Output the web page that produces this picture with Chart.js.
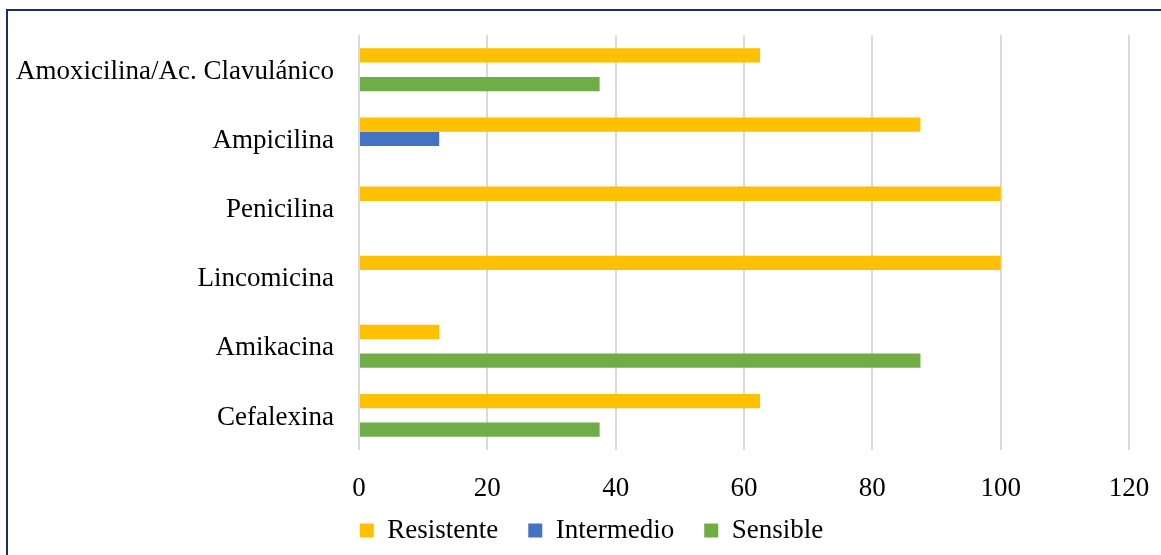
<!DOCTYPE html>
<html>
<head>
<meta charset="utf-8">
<script src="https://cdn.jsdelivr.net/npm/chart.js@4.4.0/dist/chart.umd.min.js"></script>
<style>
  html, body { margin: 0; padding: 0; background: #fff; }
  .frame {
    position: absolute; left: 6px; top: 9px; width: 1155px; height: 546px;
    border-top: 2px solid #13306e; border-left: 2px solid #13306e;
    box-sizing: border-box;
  }
  .frame canvas { display: block; }
</style>
</head>
<body>
<div class="frame"><canvas id="chart" width="1153" height="544"></canvas></div>
<script>
const antibiotics = ["Amoxicilina/Ac. Clavulánico", "Ampicilina", "Penicilina", "Lincomicina", "Amikacina", "Cefalexina"];
const resistente = [62.5, 87.5, 100, 100, 12.5, 62.5];
const intermedio = [0, 12.5, 0, 0, 0, 0];
const sensible = [37.5, 0, 0, 0, 87.5, 37.5];
const xTicks = [0, 20, 40, 60, 80, 100, 120];

const serif = "'Liberation Serif', 'DejaVu Serif', serif";
const textColor = '#000';

// fixed axis boxes; labels may spill outside them, so don't clip
function fixSize(prop, size) {
  return (scale) => {
    scale[prop] = size;
    scale._computeLabelArea = () => undefined;
  };
}

const ctx = document.getElementById('chart').getContext('2d');
new Chart(ctx, {
  type: 'bar',
  data: {
    labels: antibiotics,
    datasets: [
      { label: 'Resistente', data: resistente, backgroundColor: '#FFC000' },
      { label: 'Intermedio', data: intermedio, backgroundColor: '#4472C4' },
      { label: 'Sensible', data: sensible, backgroundColor: '#70AD47' },
    ],
  },
  options: {
    indexAxis: 'y',
    responsive: false,
    animation: false,
    layout: { padding: { top: 0, right: 32, bottom: 1, left: 46 } },
    datasets: { bar: { categoryPercentage: 0.62, barPercentage: 1, borderWidth: 0 } },
    scales: {
      x: {
        min: 0,
        max: 120,
        afterBuildTicks: (scale) => { scale.ticks = xTicks.map(v => ({ value: v })); },
        grid: { color: '#d9d9d9', lineWidth: 2, drawTicks: true, tickLength: 12, tickColor: 'rgba(0,0,0,0)' },
        border: { display: false },
        ticks: { color: textColor, padding: 11, font: { family: serif, size: 27 } },
        afterFit: fixSize('height', 37),
      },
      y: {
        grid: { display: false, tickLength: 17 },
        border: { display: false },
        afterFit: fixSize('width', 305),
        ticks: { color: textColor, padding: 8, labelOffset: 2, font: { family: serif, size: 27 } },
      },
    },
    plugins: {
      legend: {
        position: 'bottom',
        labels: {
          color: textColor,
          boxWidth: 14,
          boxHeight: 14,
          padding: 30,
          font: { family: serif, size: 27 },
        },
      },
      tooltip: { enabled: false },
    },
  },
});
</script>
</body>
</html>
